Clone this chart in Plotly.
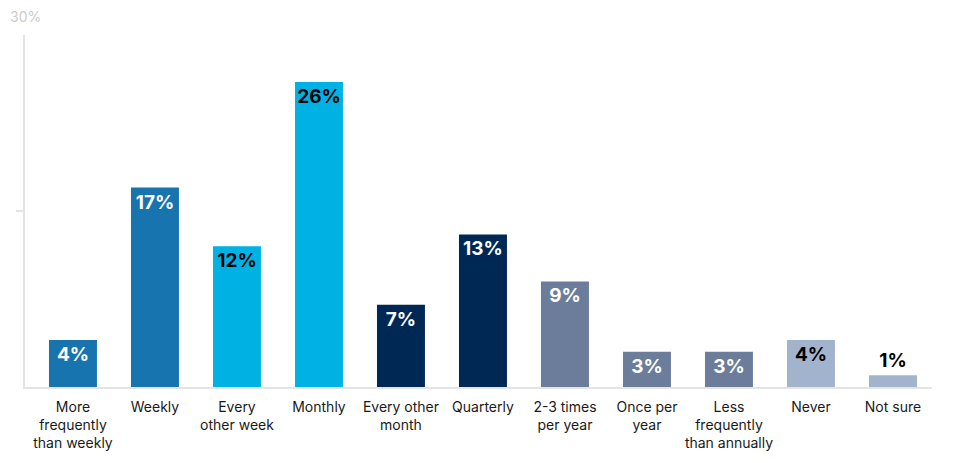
import plotly.graph_objects as go

categories = ["More<br>frequently<br>than weekly", "Weekly", "Every<br>other week", "Monthly",
              "Every other<br>month", "Quarterly", "2-3 times<br>per year", "Once per<br>year",
              "Less<br>frequently<br>than annually", "Never", "Not sure"]
values = [4, 17, 12, 26, 7, 13, 9, 3, 3, 4, 1]
bar_colors = ["#1874af", "#1874af", "#00b2e3", "#00b2e3", "#002855", "#002855",
              "#6c7d9c", "#6c7d9c", "#6c7d9c", "#a2b4cd", "#a2b4cd"]
text_colors = ["white", "white", "black", "black", "white", "white",
               "white", "white", "white", "black", "black"]
text_positions = ["inside"] * 10 + ["outside"]
y_tick_labels = ["30%"]

FONT = "Inter, Roboto, sans-serif"

fig = go.Figure(go.Bar(
    x=list(range(len(categories))),
    y=values,
    marker=dict(color=bar_colors, line=dict(width=0)),
    width=0.585,
    text=[f"{v}%" for v in values],
    textposition=text_positions,
    insidetextanchor="end",
    textangle=0,
    textfont=dict(family=FONT, size=19, color=text_colors, weight="bold"),
    outsidetextfont=dict(family=FONT, size=19, color="black", weight="bold"),
    cliponaxis=False,
    hoverinfo="skip",
))

fig.update_layout(
    width=953, height=455,
    margin=dict(l=17, r=29, t=27, b=76, autoexpand=False),
    paper_bgcolor="white", plot_bgcolor="white",
    showlegend=False,
    uniformtext=dict(minsize=19, mode="show"),
    xaxis=dict(
        tickmode="array",
        tickvals=list(range(len(categories))),
        ticktext=categories,
        range=[-0.585, 10.476],
        showgrid=False, zeroline=False, automargin=False,
        showline=True, linecolor="#e4e4e4", linewidth=2,
        ticks="", tickfont=dict(family=FONT, size=14, color="#1a1a1a"),
        ticklabelstandoff=6,
    ),
    yaxis=dict(
        range=[0, 30],
        tickvals=[15], ticktext=[""], automargin=False,
        ticks="outside", ticklen=7, tickcolor="#e4e4e4", tickwidth=2,
        showgrid=False, zeroline=False,
        showline=True, linecolor="#e4e4e4", linewidth=2,
    ),
    annotations=[dict(
        x=0, xref="paper", y=30, yref="y",
        text=y_tick_labels[0], showarrow=False,
        xanchor="center", yanchor="bottom", yshift=8,
        font=dict(family=FONT, size=14, color="#cccccc"),
    )],
)

fig.write_html("out.html")
